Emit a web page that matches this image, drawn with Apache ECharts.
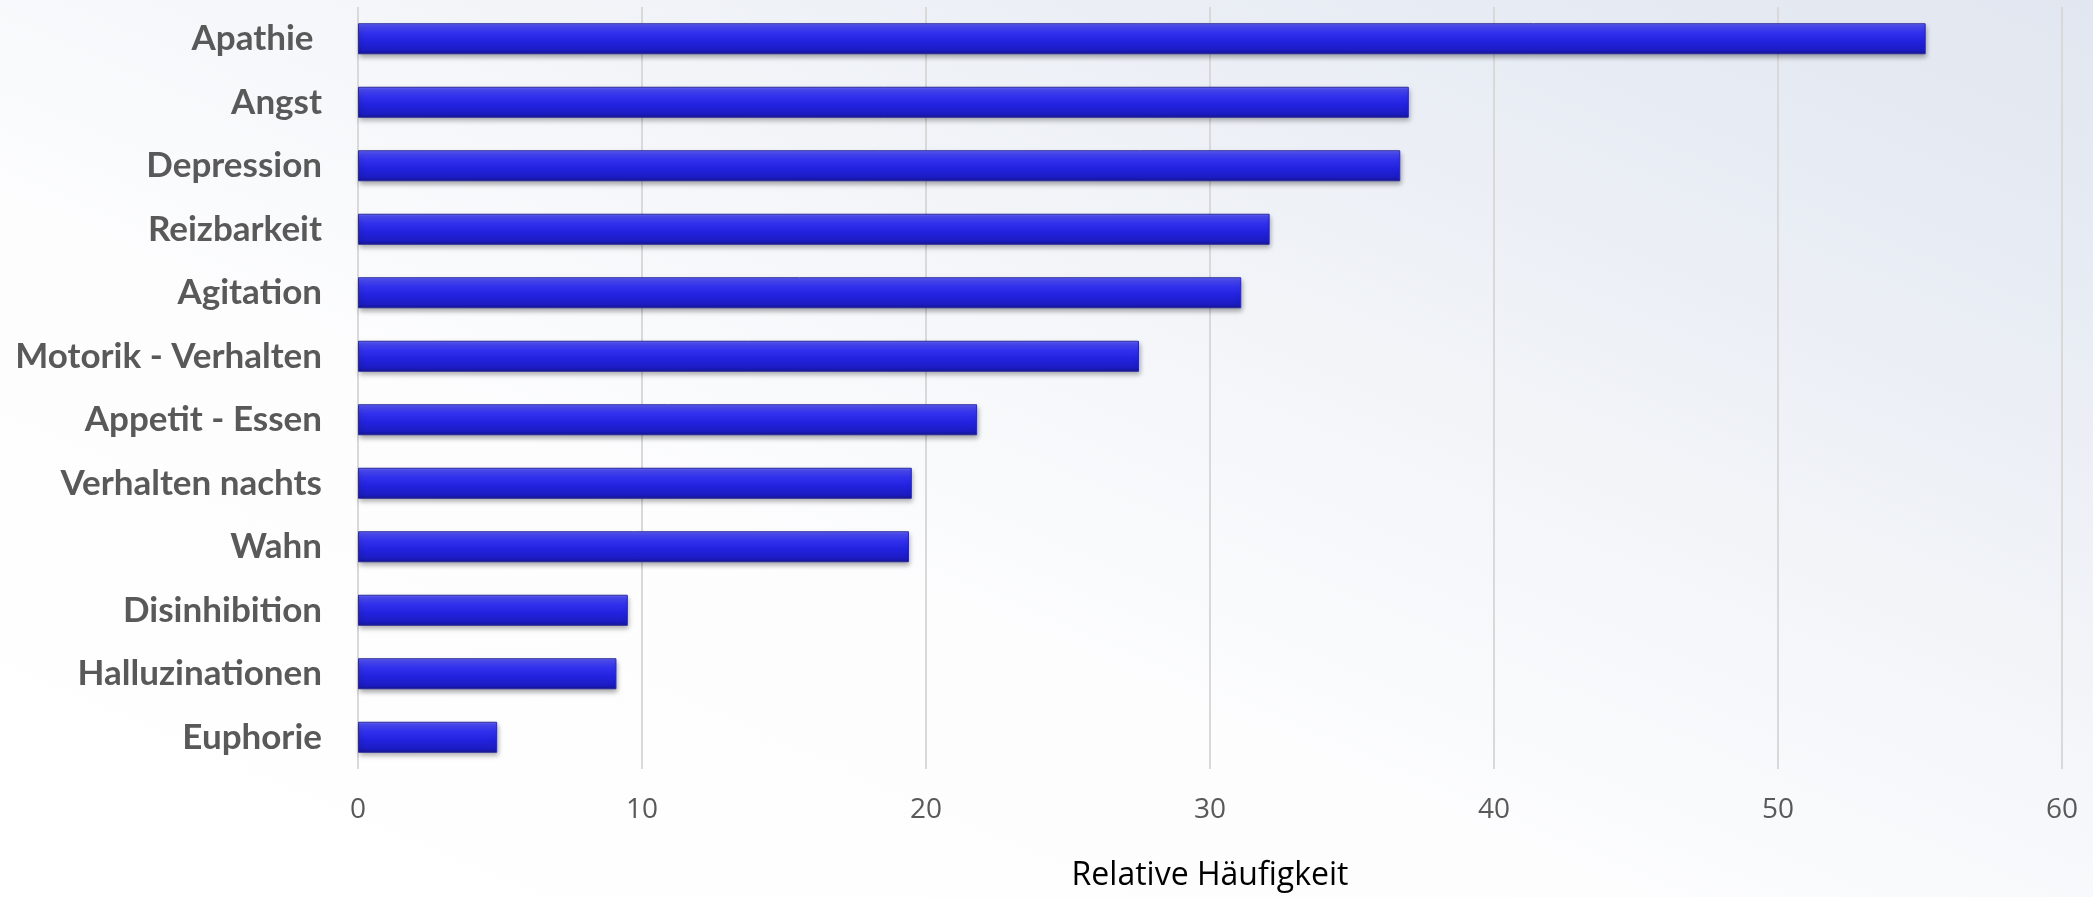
<!DOCTYPE html>
<html>
<head>
<meta charset="utf-8">
<script src="https://cdn.jsdelivr.net/npm/echarts@6/dist/echarts.min.js"></script>
<style>
  html, body {
    margin: 0;
    padding: 0;
  }
  #my_chart {
    width: 2093px;
    height: 897px;
    background: linear-gradient(to top right, #ffffff 0%, #fdfdfe 38%, #f4f6f9 58%, #e9edf4 80%, #e1e6f0 100%);
  }
</style>
</head>
<body>
<div id="my_chart"></div>
<script>
  // Kategorien von unten nach oben (Balken beginnen unten)
  var categories = ['Euphorie', 'Halluzinationen', 'Disinhibition', 'Wahn', 'Verhalten nachts',
    'Appetit - Essen', 'Motorik - Verhalten', 'Agitation', 'Reizbarkeit', 'Depression', 'Angst', 'Apathie '];
  var values = [4.9, 9.1, 9.5, 19.4, 19.5, 21.8, 27.5, 31.1, 32.1, 36.7, 37.0, 55.2];
  var xTicks = [0, 60, 10];
  var xTitle = 'Relative Häufigkeit';

  var my_chart = echarts.init(document.getElementById('my_chart'));

  my_chart.setOption({
    backgroundColor: 'transparent',
    animation: false,
    grid: { left: 358, right: 31, top: 7, bottom: 124 },
    xAxis: {
      type: 'value',
      min: xTicks[0],
      max: xTicks[1],
      interval: xTicks[2],
      name: xTitle,
      nameLocation: 'middle',
      nameGap: 91,
      nameTextStyle: { fontFamily: 'Open Sans', fontSize: 32, color: '#000000' },
      axisLine: { show: false },
      axisTick: { show: false },
      axisLabel: { margin: 27, fontFamily: 'Open Sans', fontSize: 28, color: '#595959' },
      splitLine: { show: true, lineStyle: { color: '#d9d9d9', width: 2 } }
    },
    yAxis: {
      type: 'category',
      data: categories,
      axisLine: { show: false },
      axisTick: { show: false },
      axisLabel: { margin: 36, fontFamily: 'Lato', fontWeight: 'bold', fontSize: 35, color: '#595959' }
    },
    series: [{
      type: 'bar',
      data: values,
      barWidth: 31,
      itemStyle: {
        color: new echarts.graphic.LinearGradient(0, 0, 0, 1, [
          { offset: 0, color: '#7070ff' },
          { offset: 0.08, color: '#4c4cf6' },
          { offset: 0.3, color: '#3232ee' },
          { offset: 0.6, color: '#2222de' },
          { offset: 0.88, color: '#1c1cc2' },
          { offset: 1, color: '#15158c' }
        ]),
        borderColor: '#2a2a9c',
        borderWidth: 1,
        shadowColor: 'rgba(0, 0, 0, 0.35)',
        shadowBlur: 5,
        shadowOffsetX: 1,
        shadowOffsetY: 3
      }
    }]
  });
</script>
</body>
</html>
